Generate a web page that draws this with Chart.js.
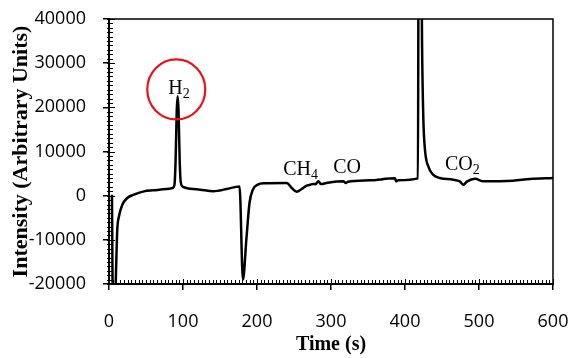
<!DOCTYPE html>
<html><head><meta charset="utf-8">
<script src="https://cdn.jsdelivr.net/npm/chart.js@4/dist/chart.umd.min.js"></script>
<style>html,body{margin:0;padding:0;background:#fff;}</style>
</head><body>
<canvas id="c" width="570" height="358"></canvas>
<script>
// ---- data ----
const timeS = [4, 5.5, 7.5, 9.5, 11.2, 13.5, 18, 24.7, 33.8, 47.3, 60, 78, 86,
  88.5, 90, 91.5, 92.8, 94, 95.5, 97, 100, 110, 123, 141, 159, 176.4,
  181, 185.8, 189.9, 194.4, 201, 210, 240, 247, 253.6, 260.4, 267, 272, 276, 279,
  282.9, 286.5, 294, 316.6, 320, 323, 352.7, 386.5, 388, 391, 417.5,
  418.5, 421.5, 423, 424.7, 427, 431.5, 438, 447, 465, 474, 479, 484, 494.6,
  506, 546, 569, 600];
const intensity = [200, -30000, -30000, -17000, -7700, -4680, -2040, -520, 230, 970, 1200, 1510, 1740,
  2500, 8000, 19000, 22500, 19000, 8000, 3000, 2000, 1580, 1360, 1000, 1500, 2100,
  -19000, -9500, -1600, 1360, 2490, 2800, 2870, 1740, 900, 1510, 2260, 2490, 2640, 2600,
  3240, 2640, 2870, 3240, 2870, 3150, 3470, 3920, 3240, 3500, 3920,
  70000, 70000, 35000, 17940, 10400, 6630, 4750, 4000, 3620, 3240, 2490, 3240, 3850,
  3240, 3400, 3770, 4000];
const xTickValues = [0, 100, 200, 300, 400, 500, 600];
const yTickValues = [-20000, -10000, 0, 10000, 20000, 30000, 40000];
const peakLabels = ['H', 'CH', 'CO', 'CO'];
const peakSubscripts = ['2', '4', '', '2'];
const peakLabelTime = [80, 235.5, 303, 454];
const peakLabelIntensity = [23000, 4750, 5100, 5770];
const circledPeakTime = 90.9;
const circledPeakIntensity = 24050;

const points = timeS.map((t, i) => ({x: t, y: intensity[i]}));

const decorPlugin = {
  id: 'decor',
  afterDraw(chart) {
    const ctx = chart.ctx, a = chart.chartArea;
    const xs = chart.scales.x, ys = chart.scales.y;
    ctx.save();
    ctx.strokeStyle = '#000';
    ctx.lineWidth = 1.5;
    ctx.beginPath();
    ctx.moveTo(a.left, a.top); ctx.lineTo(a.right, a.top); ctx.lineTo(a.right, a.bottom);
    ctx.stroke();
    ctx.lineWidth = 1;
    ctx.beginPath();
    for (let v = -20000; v <= 40000; v += 1000) {
      const y = Math.round(ys.getPixelForValue(v)) + 0.5;
      const major = v % 10000 === 0;
      ctx.moveTo(a.left - 2, y); ctx.lineTo(a.left + (major ? 6 : 4), y);
    }
    for (let t = 0; t <= 600; t += 5) {
      const x = Math.round(xs.getPixelForValue(t)) + 0.5;
      const major = t % 100 === 0;
      ctx.moveTo(x, a.bottom + 1); ctx.lineTo(x, a.bottom - (major ? 5 : 4));
    }
    ctx.stroke();
    ctx.fillStyle = '#000';
    ctx.textBaseline = 'alphabetic';
    ctx.textAlign = 'left';
    peakLabels.forEach((lab, i) => {
      const x = xs.getPixelForValue(peakLabelTime[i]);
      const y = ys.getPixelForValue(peakLabelIntensity[i]);
      ctx.font = '20px "Liberation Serif", "Times New Roman", serif';
      ctx.fillText(lab, x, y);
      const w = ctx.measureText(lab).width;
      if (peakSubscripts[i]) {
        ctx.font = '14px "Liberation Serif", "Times New Roman", serif';
        ctx.fillText(peakSubscripts[i], x + w, y + 4);
      }
    });
    ctx.strokeStyle = '#e5141c';
    ctx.lineWidth = 2.2;
    ctx.beginPath();
    ctx.ellipse(xs.getPixelForValue(circledPeakTime), ys.getPixelForValue(circledPeakIntensity), 29, 30, 0, 0, Math.PI * 2);
    ctx.stroke();
    ctx.restore();
  }
};

new Chart(document.getElementById('c'), {
  type: 'line',
  data: {
    datasets: [{
      data: points,
      borderColor: '#000',
      borderWidth: 2.5,
      pointRadius: 0,
      cubicInterpolationMode: 'monotone',
      fill: false,
      clip: 0
    }]
  },
  options: {
    responsive: false,
    devicePixelRatio: 1,
    animation: false,
    layout: {padding: {top: 19, right: 17, left: 0, bottom: 0}},
    plugins: {legend: {display: false}, tooltip: {enabled: false}},
    scales: {
      x: {
        type: 'linear', min: 0, max: 600,
        afterBuildTicks: (s) => { s.ticks = xTickValues.map(v => ({value: v})); },
        afterFit: (s) => { s.height = 74; s.paddingLeft = 0; s.paddingRight = 0; },
        grid: {drawOnChartArea: false, drawTicks: true, tickLength: 6, color: '#000', lineWidth: 1.5},
        border: {color: '#000', width: 2},
        ticks: {color: '#000', padding: 21, maxRotation: 0, callback: (v) => String(v),
          font: {family: '"Open Sans"', size: 18}},
        title: {display: true, text: 'Time (s)', color: '#000', padding: {top: 0, bottom: 1},
          font: {family: '"Liberation Serif"', size: 20, weight: 'bold'}}
      },
      y: {
        type: 'linear', min: -20000, max: 40000,
        afterBuildTicks: (s) => { s.ticks = yTickValues.map(v => ({value: v})); },
        afterFit: (s) => { s.width = 109; s.paddingTop = 0; s.paddingBottom = 0; },
        grid: {drawOnChartArea: false, drawTicks: true, tickLength: 6, color: '#000', lineWidth: 1.5},
        border: {color: '#000', width: 2},
        ticks: {color: '#000', padding: 17, callback: (v) => String(v),
          font: {family: '"Open Sans"', size: 18}},
        title: {display: true, text: 'Intensity (Arbitrary Units)', color: '#000', padding: {top: 8, bottom: 0},
          font: {family: '"Liberation Serif"', size: 22, weight: 'bold'}}
      }
    }
  },
  plugins: [decorPlugin]
});
</script>
</body></html>
